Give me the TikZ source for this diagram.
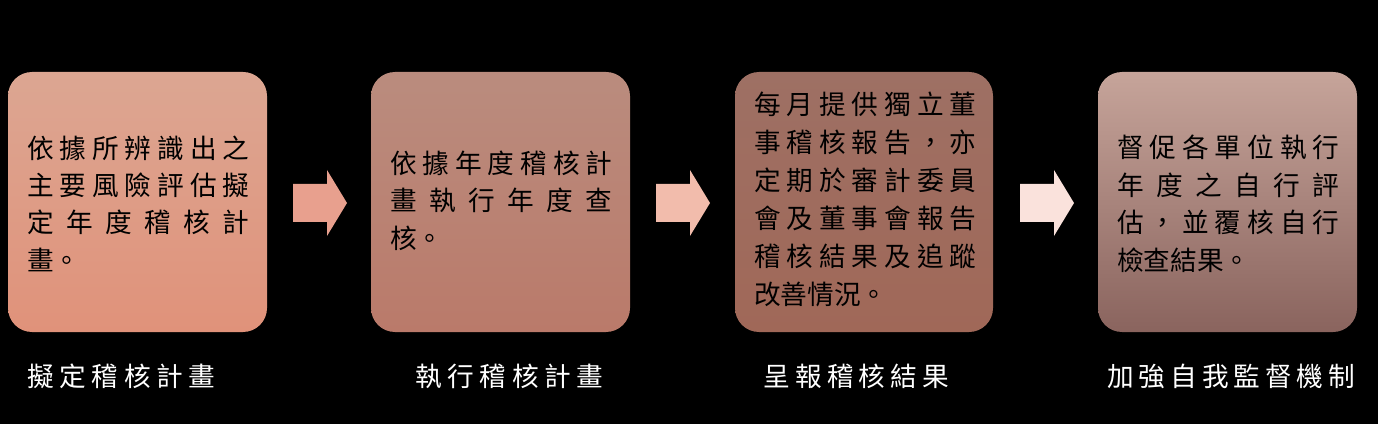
\documentclass[tikz,border=0pt]{standalone}
\usepackage{fontspec}
\newfontfamily\cjk{Noto Sans CJK TC}
\definecolor{b1t}{RGB}{220,166,146}\definecolor{b1b}{RGB}{224,146,122}
\definecolor{b2t}{RGB}{186,140,126}\definecolor{b2b}{RGB}{186,122,106}
\definecolor{b3t}{RGB}{158,112,100}\definecolor{b3m}{RGB}{240,168,144}\definecolor{b3b}{RGB}{160,104,88}
\definecolor{b4t}{RGB}{198,164,154}\definecolor{b4b}{RGB}{138,100,94}
\definecolor{ar1}{RGB}{232,160,142}\definecolor{ar2}{RGB}{242,188,172}\definecolor{ar3}{RGB}{250,226,220}
\begin{document}
\begin{tikzpicture}[x=0.75pt,y=-0.75pt,
  box/.style={rounded corners=18pt},
  ln/.style={anchor=west,inner sep=0pt,font=\cjk\fontsize{20}{20}\selectfont,text=black},
  captxt/.style={anchor=west,inner sep=0pt,font=\cjk\fontsize{20}{20}\selectfont,text=white}]
\fill[black] (0,0) rectangle (1378,424);
\useasboundingbox (0,0) rectangle (1378,424);
% boxes
\shade[box,top color=b1t,bottom color=b1b] (8,72) rectangle (267,332);
\shade[box,top color=b2t,bottom color=b2b] (371,72) rectangle (630,332);
\shade[box,top color=b3t,middle color=b3m,bottom color=b3b] (735,72) rectangle (993,332);
\shade[box,top color=b4t,bottom color=b4b] (1098,72) rectangle (1357,332);
% arrows
\fill[ar1] (293,184)--(327,184)--(327,170)--(347,203)--(327,236)--(327,222)--(293,222)--cycle;
\fill[ar2] (656,184)--(690,184)--(690,170)--(710,203)--(690,236)--(690,222)--(656,222)--cycle;
\fill[ar3] (1020,184)--(1054,184)--(1054,170)--(1074,203)--(1054,236)--(1054,222)--(1020,222)--cycle;
% box 1 text
\node[ln] (a1) at (27,148) {\makebox[166.5pt][s]{依\hfill 據\hfill 所\hfill 辨\hfill 識\hfill 出\hfill 之}};
\node[ln] (a2) at (27,185) {\makebox[166.5pt][s]{主\hfill 要\hfill 風\hfill 險\hfill 評\hfill 估\hfill 擬}};
\node[ln] (a3) at (27,222) {\makebox[166.5pt][s]{定\hfill 年\hfill 度\hfill 稽\hfill 核\hfill 計}};
\node[ln] (a4) at (27,260) {畫。};
% box 2 text
\node[ln] (b1) at (390,163) {\makebox[166.5pt][s]{依\hfill 據\hfill 年\hfill 度\hfill 稽\hfill 核\hfill 計}};
\node[ln] (b2) at (390,200) {\makebox[166.5pt][s]{畫\hfill 執\hfill 行\hfill 年\hfill 度\hfill 查}};
\node[ln] (b3) at (390,238) {核。};
% box 3 text
\node[ln] (c1) at (754,104) {\makebox[166.5pt][s]{每\hfill 月\hfill 提\hfill 供\hfill 獨\hfill 立\hfill 董}};
\node[ln] (c2) at (754,142) {\makebox[166.5pt][s]{事\hfill 稽\hfill 核\hfill 報\hfill 告\hfill ，\hfill 亦}};
\node[ln] (c3) at (754,180) {\makebox[166.5pt][s]{定\hfill 期\hfill 於\hfill 審\hfill 計\hfill 委\hfill 員}};
\node[ln] (c4) at (754,218) {\makebox[166.5pt][s]{會\hfill 及\hfill 董\hfill 事\hfill 會\hfill 報\hfill 告}};
\node[ln] (c5) at (754,256) {\makebox[166.5pt][s]{稽\hfill 核\hfill 結\hfill 果\hfill 及\hfill 追\hfill 蹤}};
\node[ln] (c6) at (754,294) {改善情況。};
% box 4 text
\node[ln] (d1) at (1117,147) {\makebox[166.5pt][s]{督\hfill 促\hfill 各\hfill 單\hfill 位\hfill 執\hfill 行}};
\node[ln] (d2) at (1117,185) {\makebox[166.5pt][s]{年\hfill 度\hfill 之\hfill 自\hfill 行\hfill 評}};
\node[ln] (d3) at (1117,222) {\makebox[166.5pt][s]{估\hfill ，\hfill 並\hfill 覆\hfill 核\hfill 自\hfill 行}};
\node[ln] (d4) at (1117,260) {檢查結果。};
% captions
\node[captxt] (e1) at (27,376) {\makebox[141pt][s]{擬\hfill 定\hfill 稽\hfill 核\hfill 計\hfill 畫}};
\node[captxt] (e2) at (415,376) {\makebox[141pt][s]{執\hfill 行\hfill 稽\hfill 核\hfill 計\hfill 畫}};
\node[captxt] (e3) at (763,376) {\makebox[139.5pt][s]{呈\hfill 報\hfill 稽\hfill 核\hfill 結\hfill 果}};
\node[captxt] (e4) at (1107,376) {\makebox[186pt][s]{加\hfill 強\hfill 自\hfill 我\hfill 監\hfill 督\hfill 機\hfill 制}};
\end{tikzpicture}
\end{document}
